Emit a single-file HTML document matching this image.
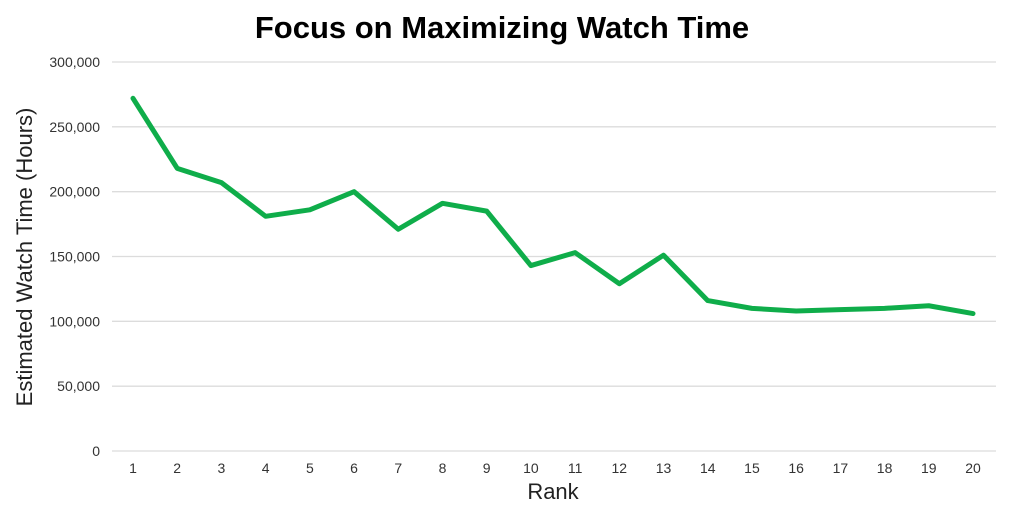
<!DOCTYPE html>
<html><head><meta charset="utf-8"><style>
body{margin:0;background:#fff;width:1024px;height:517px;overflow:hidden;font-family:"Liberation Sans",sans-serif}
</style></head><body>
<svg width="1024" height="517" id="c">
<text x="502" y="38" text-anchor="middle" font-size="31" font-weight="bold" fill="#000">Focus on Maximizing Watch Time</text>
<text transform="translate(32,257) rotate(-90)" text-anchor="middle" font-size="22" fill="#222">Estimated Watch Time (Hours)</text>
<text x="553" y="499" text-anchor="middle" font-size="22" fill="#222">Rank</text>
<g id="grid"></g><g id="yt"></g><g id="xt"></g><g id="ln"></g>
</svg>
<script>
const ranks=[1,2,3,4,5,6,7,8,9,10,11,12,13,14,15,16,17,18,19,20];
const hours=[272000,218000,207000,181000,186000,200000,171000,191000,185000,143000,153000,129000,151000,116000,110000,108000,109000,110000,112000,106000];
const yTicks=[0,50000,100000,150000,200000,250000,300000];
const yTickLabels=["0","50,000","100,000","150,000","200,000","250,000","300,000"];
const NS="http://www.w3.org/2000/svg";
const y=v=>451-v/300000*389;
const x=r=>133+(r-1)*(973-133)/19;
function mk(t,a,p){const e=document.createElementNS(NS,t);for(const k in a)e.setAttribute(k,a[k]);p.appendChild(e);return e;}
const g=document.getElementById('grid'),yt=document.getElementById('yt'),xt=document.getElementById('xt'),ln=document.getElementById('ln');
yTicks.forEach((v,i)=>{
 const l=mk('line',{x1:112,x2:996,y1:y(v),y2:y(v),stroke:'#dcdcdc','stroke-width':1.3},g);
 
 
 const t=mk('text',{x:100,y:y(v)+5,'text-anchor':'end','font-size':14,fill:'#333'},yt);
 t.textContent=yTickLabels[i];
 
 
});
ranks.forEach(r=>{
 const t=mk('text',{x:x(r),y:473,'text-anchor':'middle','font-size':14,fill:'#333'},xt);
 t.textContent=r;
 
 
});
const pl=mk('polyline',{points:ranks.map((r,i)=>x(r)+','+y(hours[i])).join(' '),fill:'none',stroke:'#0fad4a','stroke-width':5,'stroke-linejoin':'round','stroke-linecap':'round'},ln);


</script>
</body></html>
